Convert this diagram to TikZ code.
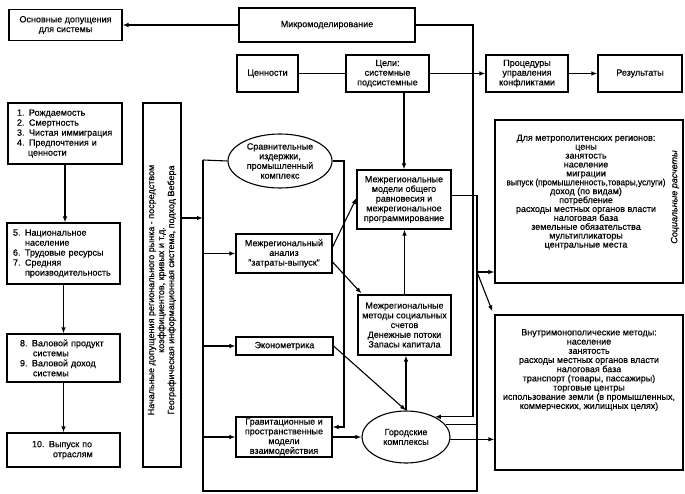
\documentclass[tikz,border=0pt]{standalone}
\usepackage{graphicx}
\usepackage{fontspec}
\setmainfont{Liberation Sans}[UprightFeatures={FakeBold=0.4},ItalicFeatures={FakeBold=0.4}]
\usetikzlibrary{arrows.meta,shapes.geometric,calc}
\begin{document}
\begin{tikzpicture}[x=1pt,y=-1pt, line width=1.1pt,
 every node/.style={font=\fontsize{9}{9.7}\selectfont},
 box/.style={draw, rectangle, inner sep=0pt, align=center},
 lbox/.style={draw, rectangle, align=left, font=\fontsize{9}{10}\selectfont},
 ell/.style={draw, ellipse, inner sep=0pt, align=center},
 txt/.style={inner sep=0pt, align=center},
 arr/.style={-{Latex[length=6pt,width=4.5pt]}}]
\useasboundingbox[fill=white] (0,0) rectangle (685,494);

% top row
\node[box, minimum width=113, minimum height=31] (osn) at (65.5,25) {Основные допущения\\для системы};
\node[box, minimum width=176, minimum height=34] (micro) at (327,25) {Микромоделирование};
\node[box, minimum width=61, minimum height=37] (cen) at (267.5,73.5) {Ценности};
\node[box, minimum width=83, minimum height=37] (celi) at (387.5,73.5) {Цели:\\системные\\подсистемные};
\node[box, minimum width=82, minimum height=37] (proc) at (527,73.5) {Процедуры\\управления\\конфликтами};
\node[box, minimum width=84, minimum height=37] (res) at (640,73.5) {Результаты};

% left column
\node[lbox, inner xsep=9, text width=96, minimum height=61] (b1) at (65,133.5)
 {1. Рождаемость\\2. Смертность\\3. Чистая иммиграция\\4. Предпочтения и\\\hspace*{11pt}ценности};
\node[lbox, inner xsep=6, text width=101, minimum height=61] (b2) at (63.5,253.5)
 {5. Национальное\\\hspace*{12pt}население\\6. Трудовые ресурсы\\7. Средняя\\\hspace*{12pt}производительность};
\node[lbox, inner xsep=13, text width=87, minimum height=48] (b3) at (63.5,358)
 {8. Валовой продукт\\\hspace*{13pt}системы\\9. Валовой доход\\\hspace*{13pt}системы};
\node[lbox, inner xsep=25, text width=63, minimum height=34] (b4) at (63.5,450)
 {10. Выпуск по\\\hspace*{21pt}отраслям};

% vertical box
\node[box, minimum width=38, minimum height=364] (vert) at (162,285) {};
\node[txt, rotate=90, font=\fontsize{9}{10}\selectfont] (vertt) at (162,290)
 {Начальные допущения регионального рынка - посредством\\коэффициентов, кривых и т.д.\\Географическая информационная система, подход Вебера};

% middle models
\node[ell, minimum width=104, minimum height=54] (sravn) at (280,161) {Сравнительные\\издержки,\\промышленный\\комплекс};
\node[box, minimum width=96, minimum height=39] (io) at (284,253.5) {Межрегиональный\\анализ\\"затраты-выпуск"};
\node[box, minimum width=94, minimum height=59] (mm) at (404,199.5) {Межрегиональные\\модели общего\\равновесия и\\межрегиональное\\программирование};
\node[box, minimum width=93, minimum height=60] (ss) at (404.5,325) {Межрегиональные\\методы социальных\\счетов\\Денежные потоки\\Запасы капитала};
\node[box, minimum width=97, minimum height=18] (eco) at (284.5,346) {Эконометрика};
\node[box, minimum width=96, minimum height=40] (grav) at (284,437) {Гравитационные и\\пространственные\\модели\\взаимодействия};
\node[ell, minimum width=88, minimum height=52] (gor) at (406,437) {Городские\\комплексы};

% right boxes
\node[box, minimum width=188, minimum height=163] (m1) at (589,201.5) {};
\node[txt, font=\fontsize{9}{8.9}\selectfont] (m1t) at (586,192)
 {Для метрополитенских регионов:\\цены\\занятость\\население\\миграции\\\scalebox{0.92}[1]{выпуск (промышленность,товары,услуги)}\\доход (по видам)\\потребление\\расходы местных органов власти\\налоговая база\\земельные обязательства\\мультипликаторы\\центральные места};
\node[txt, rotate=90, font=\fontsize{9}{9}\itshape] (soc) at (675,197) {Социальные расчеты};
\node[box, minimum width=188, minimum height=155] (m2) at (589,392.5) {};
\node[txt, font=\fontsize{9}{9.2}\selectfont] (m2t) at (589,370)
 {Внутримонополические методы:\\население\\занятость\\расходы местных органов власти\\налоговая база\\транспорт (товары, пассажиры)\\торговые центры\\использование земли (в промышленных,\\коммерческих, жилищных целях)};

% helper coordinates
\coordinate (bt) at (203,160);
\coordinate (bb) at (203,491);
\coordinate (rb) at (477,491);
\coordinate (mr) at (473,25);
\coordinate (k1) at (344,427);
\coordinate (br) at (477,272);
\coordinate (vb) at (203,218);

% connectors top
\draw[arr] (micro.west) -- (micro.west -| osn.east);
\draw (cen.east) -- (celi.west);
\draw[arr] (celi.east) -- (proc.west);
\draw[arr] (proc.east) -- (res.west);
\draw[arr] (celi.south -| mm.north) -- (mm.north);

% left column
\draw[arr] (b1.south) -- (b1.south |- b2.north);
\draw[arr] (b2.south) -- (b2.south |- b3.north);
\draw[arr] (b3.south) -- (b3.south |- b4.north);

% bus
\draw[arr] (vert.east |- vb) -- (vb);
\draw (bt) -- (sravn.west);
\draw[arr] (io.west -| bt) -- (io.west);
\draw[arr] (eco.west -| bt) -- (eco.west);
\draw[arr] (grav.west -| bt) -- (grav.west);
\draw ($(mm.east)+(0,-4)$) -| (rb) -- (bb) -- (bt);

% middle
\draw[arr] (sravn.east) -| (k1) -- (k1 -| grav.east);
\draw[arr] ($(io.east)+(0,-6.5)$) -- ($(mm.west)+(0,-1.5)$);
\draw[arr] ($(io.east)+(0,8.5)$) -- ($(ss.north west)+(4,-1)$);
\draw[arr] (ss.north) -- (ss.north |- mm.south);
\draw[arr] (gor.north) -- (gor.north |- ss.south);
\draw[arr] (eco.east) -- (gor.north);
\draw[arr] (grav.east) -- (gor.west);
\draw[arr] (micro.east) -- (mr) |- (gor.35);
\draw (gor.17) -- (gor.17 -| rb);
\draw[arr] (gor.-3) -- (gor.-3 -| m2.west);

% outputs
\draw[arr] (br) -- (br -| m1.west);
\draw[arr] (br) -- ($(m2.north west)+(-2,-3)$);
\end{tikzpicture}
\end{document}
